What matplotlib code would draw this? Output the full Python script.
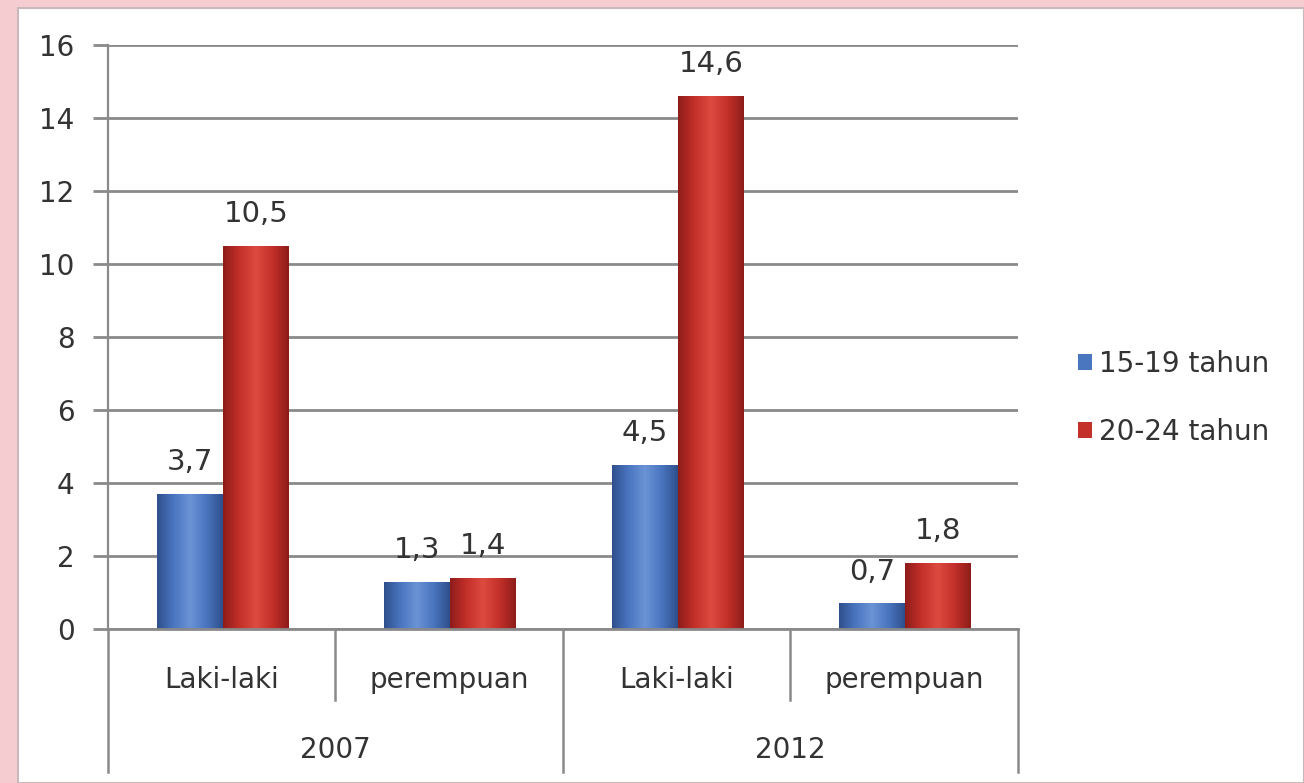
import matplotlib
matplotlib.use("Agg")
import matplotlib.pyplot as plt
import numpy as np
from matplotlib.colors import LinearSegmentedColormap
from matplotlib.patches import Rectangle
import matplotlib.transforms as mtransforms

# ---- data ----
years = ["2007", "2012"]
genders = ["Laki-laki", "perempuan", "Laki-laki", "perempuan"]
series_names = ["15-19 tahun", "20-24 tahun"]
vals_15_19 = [3.7, 1.3, 4.5, 0.7]
vals_20_24 = [10.5, 1.4, 14.6, 1.8]
yticks = [0, 2, 4, 6, 8, 10, 12, 14, 16]

blue = "#4a76c0"
red = "#c4302a"
text_col = "#333333"
FS = 20

plt.rcParams['font.family'] = ['DejaVu Sans']

W, H = 1304, 783
fig = plt.figure(figsize=(W / 100, H / 100), dpi=100)
fig.patch.set_facecolor("#f5cdd1")
# white panel
fig.patches.append(Rectangle((18 / W, 0), 1 - 18 / W, 1 - 8 / H, transform=fig.transFigure,
                             facecolor="white", edgecolor="#c9b9bb", linewidth=1.5, zorder=-10))

ax = fig.add_axes([108 / W, 154 / H, (1018 - 108) / W, (629 - 45) / H])
ax.set_facecolor("none")

n = len(genders)
x = np.arange(n) + 0.5
w = 0.29
b1 = ax.bar(x - w / 2 + 0.005, vals_15_19, width=w, color=blue, zorder=3, label=series_names[0])
b2 = ax.bar(x + w / 2 + 0.005, vals_20_24, width=w, color=red, zorder=3, label=series_names[1])

def shade(bars, dark, mid, light):
    cmap = LinearSegmentedColormap.from_list("g", [dark, mid, light, mid, dark])
    grad = np.linspace(0, 1, 200).reshape(1, -1)
    for b in bars:
        x0, y0 = b.get_x(), b.get_y()
        im = ax.imshow(grad, cmap=cmap, aspect="auto", zorder=4,
                       extent=[x0, x0 + b.get_width(), y0, y0 + b.get_height()])
        im.set_clip_path(b)

shade(b1, "#2f4f8c", "#4a76c0", "#6a93d6")
shade(b2, "#8e1d1a", "#c4302a", "#dc4a40")

for bars, vals in ((b1, vals_15_19), (b2, vals_20_24)):
    for b, v in zip(bars, vals):
        ax.annotate(f"{v:.1f}".replace(".", ","), (b.get_x() + b.get_width() / 2, v),
                    xytext=(0, 23), textcoords="offset points", ha="center", va="center",
                    fontsize=FS + 1, color=text_col, zorder=5)

ax.set_xlim(0, n)
ax.set_ylim(0, 16)
ax.set_yticks(yticks)
ax.set_yticklabels([str(t) for t in yticks], fontsize=FS, color=text_col)
ax.yaxis.grid(True, color="#8a8a8a", linewidth=2.0, zorder=1)
ax.tick_params(axis="y", length=11, width=2.0, color="#8a8a8a", pad=13)
ax.set_xticks([])
for s in ["top", "right"]:
    ax.spines[s].set_visible(False)
ax.spines["left"].set_color("#8a8a8a")
ax.spines["left"].set_linewidth(1.6)
ax.spines["bottom"].set_color("#8a8a8a")
ax.spines["bottom"].set_linewidth(2.0)
ax.spines["bottom"].set_zorder(6)

trans = mtransforms.blended_transform_factory(ax.transData, ax.transAxes)
for i in range(n + 1):
    bottom = -0.245 if i % 2 == 0 else -0.122
    ax.plot([i, i], [0, bottom], transform=trans, color="#8a8a8a", lw=1.8, clip_on=False)
for xi, g in zip(x, genders):
    ax.text(xi, -0.087, g, transform=trans, ha="center", va="center", fontsize=FS, color=text_col)
for j, yr in enumerate(years):
    ax.text(2 * j + 1, -0.207, yr, transform=trans, ha="center", va="center", fontsize=FS, color=text_col)

leg = ax.legend(loc="center left", bbox_to_anchor=(1053 / W, 1 - 398 / H), bbox_transform=fig.transFigure,
                frameon=False, fontsize=FS, handlelength=0.5, handleheight=0.5, handletextpad=0.25,
                labelspacing=1.45)
for t in leg.get_texts():
    t.set_color(text_col)

fig.savefig("out.png", dpi=100, facecolor=fig.get_facecolor())
